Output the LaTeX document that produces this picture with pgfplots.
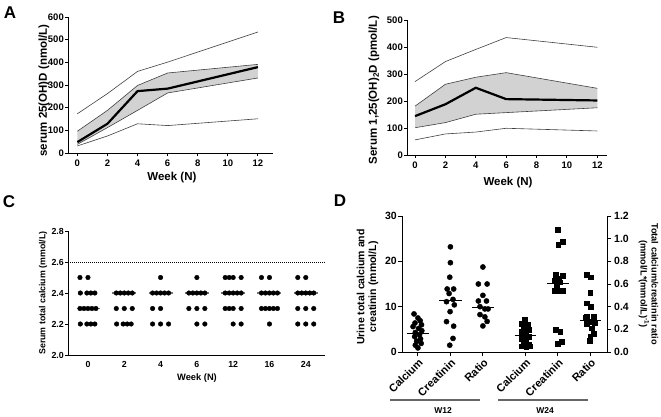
\documentclass[border=0pt]{standalone}
\usepackage{fontspec}
\setmainfont{Liberation Sans}
\usepackage{pgfplots}
\pgfplotsset{compat=1.18}

\pgfplotsset{
  gp/.style={
    scale only axis,
    axis x line*=bottom, axis y line*=left,
    axis line style={line width=1pt, -},
    tick style={line width=0.9pt, black},
    tick align=outside,
    major tick length=3pt,
    yticklabel style={inner sep=1pt},
    /pgf/number format/assume math mode=true,
    clip=false,
  },
  thinline/.style={black!75, line width=0.6pt},
}

\begin{document}
\begin{tikzpicture}
\path[use as bounding box] (0pt,0pt) rectangle (661pt,416pt);

% ---------- A ----------
\begin{axis}[gp, at={(68pt,263pt)}, anchor=south west, width=205pt, height=136pt,
  xmin=-0.62, xmax=13, ymin=0, ymax=600,
  xtick={0,2,4,6,8,10,12}, ytick={0,100,200,300,400,500,600},
  tick label style={font=\fontsize{9.5}{10}\selectfont\bfseries},
  xlabel={Week (N)}, ylabel={serum 25(OH)D (nmol/L)},
  label style={font=\fontsize{11.5}{13}\selectfont\bfseries},
  xlabel style={at={(axis description cs:0.507,-0.184)}, anchor=center},
  ylabel style={at={(axis description cs:-0.117,0.46)}, anchor=center},
]
% interquartile band: Q3 forward, Q1 backward
\addplot[fill=gray!35, draw=none] coordinates {(0,96) (2,188) (4,298) (6,353) (12,391)
  (12,331) (6,265) (4,188) (2,112) (0,38)} -- cycle;
\addplot[thinline] coordinates {(0,96) (2,188) (4,298) (6,353) (12,391)};
\addplot[thinline] coordinates {(0,38) (2,112) (4,188) (6,265) (12,331)};
\addplot[thinline] coordinates {(0,173) (2,262) (4,360) (6,401) (12,534)};
\addplot[thinline] coordinates {(0,31) (2,75) (4,129) (6,121) (12,151)};
\addplot[black, line width=2.2pt] coordinates {(0,48) (2,129) (4,273) (6,284) (12,379)};
\end{axis}

% ---------- B ----------
\begin{axis}[gp, at={(407pt,261pt)}, anchor=south west, width=200pt, height=135pt,
  xmin=-0.53, xmax=12.64, ymin=0, ymax=500,
  xtick={0,2,4,6,8,10,12}, ytick={0,100,200,300,400,500},
  tick label style={font=\fontsize{9.5}{10}\selectfont\bfseries},
  xlabel={Week (N)}, ylabel={Serum 1,25(OH)\textsubscript{2}D (pmol/L)},
  label style={font=\fontsize{11.5}{13}\selectfont\bfseries},
  xlabel style={at={(axis description cs:0.505,-0.207)}, anchor=center},
  ylabel style={at={(axis description cs:-0.165,0.48)}, anchor=center},
]
\addplot[fill=gray!35, draw=none] coordinates {(0,181) (2,262) (4,288) (6,305) (12,247)
  (12,175) (6,157) (4,151) (2,120) (0,101)} -- cycle;
\addplot[thinline] coordinates {(0,181) (2,262) (4,288) (6,305) (12,247)};
\addplot[thinline] coordinates {(0,101) (2,120) (4,151) (6,157) (12,175)};
\addplot[thinline] coordinates {(0,272) (2,346) (4,391) (6,435) (12,399)};
\addplot[thinline] coordinates {(0,56) (2,78) (4,85) (6,99) (12,89)};
\addplot[black, line width=2.2pt] coordinates {(0,144) (2,188) (4,249) (6,207) (12,202)};
\end{axis}

% ---------- C ----------
\begin{axis}[gp, at={(68pt,61pt)}, anchor=south west, width=257pt, height=124pt,
  xmin=-0.55, xmax=6.53, ymin=2.0, ymax=2.8,
  ytick={2.0,2.2,2.4,2.6,2.8},
  xtick={0,1,2,3,4,5,6}, xticklabels={0,2,4,6,12,16,24},
  xtick style={draw=none},
  yticklabel style={/pgf/number format/.cd, fixed, fixed zerofill, precision=1},
  tick label style={font=\fontsize{8.8}{9}\selectfont\bfseries},
  xlabel={Week (N)}, ylabel={Serum total calcium (mmol/L)},
  xlabel style={font=\fontsize{9.3}{10}\selectfont\bfseries, at={(axis description cs:0.502,-0.185)}, anchor=center},
  ylabel style={font=\fontsize{8.8}{10}\selectfont\bfseries, at={(axis description cs:-0.097,0.5)}, anchor=center},
]
\addplot[black, densely dotted, line width=1pt] coordinates {(-0.55,2.6) (6.53,2.6)};
% medians
\addplot[black!55, line width=1.6pt] coordinates {(-0.3,2.3) (0.33,2.3)};
\addplot[black!55, line width=1.6pt] coordinates {(0.67,2.4) (1.33,2.4)};
\addplot[black!55, line width=1.6pt] coordinates {(1.67,2.4) (2.33,2.4)};
\addplot[black!55, line width=1.6pt] coordinates {(2.67,2.4) (3.33,2.4)};
\addplot[black!55, line width=1.6pt] coordinates {(3.67,2.4) (4.33,2.4)};
\addplot[black!55, line width=1.6pt] coordinates {(4.67,2.4) (5.33,2.4)};
\addplot[black!55, line width=1.6pt] coordinates {(5.67,2.4) (6.33,2.4)};
% week 0
\addplot[only marks, mark=*, mark size=2.3pt, black] coordinates {
 (-0.22,2.5) (0,2.5)
 (-0.21,2.4) (-0.03,2.4) (0.08,2.4) (0.19,2.4)
 (-0.22,2.3) (-0.11,2.3) (0,2.3) (0.11,2.3) (0.22,2.3)
 (-0.21,2.2) (-0.03,2.2) (0.08,2.2) (0.19,2.2)};
% week 2
\addplot[only marks, mark=*, mark size=2.3pt, black] coordinates {
 (0.78,2.4) (0.89,2.4) (1,2.4) (1.11,2.4) (1.22,2.4)
 (0.78,2.3) (1,2.3) (1.22,2.3)
 (0.79,2.2) (0.97,2.2) (1.08,2.2) (1.19,2.2)};
% week 4
\addplot[only marks, mark=*, mark size=2.3pt, black] coordinates {
 (2,2.5)
 (1.78,2.4) (1.89,2.4) (2,2.4) (2.11,2.4) (2.22,2.4)
 (1.78,2.3) (2,2.3)
 (1.78,2.2) (2,2.2) (2.22,2.2)};
% week 6
\addplot[only marks, mark=*, mark size=2.3pt, black] coordinates {
 (3,2.5)
 (2.78,2.4) (2.89,2.4) (3,2.4) (3.11,2.4) (3.22,2.4)
 (2.78,2.3) (3,2.3) (3.22,2.3)
 (3,2.2) (3.22,2.2)};
% week 12
\addplot[only marks, mark=*, mark size=2.3pt, black] coordinates {
 (3.78,2.5) (3.89,2.5) (4,2.5) (4.22,2.5)
 (3.78,2.4) (3.89,2.4) (4,2.4) (4.11,2.4) (4.22,2.4)
 (3.78,2.3) (3.89,2.3) (4,2.3) (4.22,2.3)
 (4,2.2) (4.22,2.2)};
% week 16
\addplot[only marks, mark=*, mark size=2.3pt, black] coordinates {
 (4.78,2.5) (5,2.5)
 (4.78,2.4) (4.89,2.4) (5,2.4) (5.11,2.4) (5.22,2.4)
 (4.78,2.3) (4.89,2.3) (5,2.3) (5.11,2.3) (5.22,2.3)
 (5,2.2)};
% week 24
\addplot[only marks, mark=*, mark size=2.3pt, black] coordinates {
 (5.78,2.5) (6,2.5)
 (5.78,2.4) (5.89,2.4) (6,2.4) (6.11,2.4) (6.22,2.4)
 (5.78,2.3) (6,2.3) (6.22,2.3)
 (5.78,2.2) (6,2.2) (6.22,2.2)};
\end{axis}

% ---------- D (left axis: mmol/L) ----------
\begin{axis}[gp, at={(402pt,64pt)}, anchor=south west, width=205pt, height=136pt,
  xmin=-0.49, xmax=5.82, ymin=0, ymax=30,
  ytick={0,10,20,30},
  xtick={0,1,2,3.31,4.31,5.31},
  xticklabels={Calcium,Creatinin,Ratio,Calcium,Creatinin,Ratio},
  major tick length=4pt,
  yticklabel style={font=\fontsize{10.5}{11}\selectfont\bfseries},
  xticklabel style={rotate=45, anchor=north east, inner sep=1pt, font=\fontsize{11}{12}\selectfont\bfseries},
  ylabel={Urine total calcium and\\creatinin (mmol/L)},
  ylabel style={align=center, font=\fontsize{10.5}{11.7}\selectfont\bfseries, at={(axis description cs:-0.168,0.478)}, anchor=center},
]
% W12 calcium
\addplot[only marks, mark=*, mark size=2.6pt, black] coordinates {
 (-0.12,8.4) (0,7.5) (0.07,6.9) (-0.09,6.4) (0.11,6.0) (-0.15,5.6) (0.02,5.2) (0.12,4.7)
 (-0.08,4.3) (0.05,3.8) (-0.1,3.4) (0.08,2.9) (-0.04,2.4) (0.1,1.9) (-0.08,1.5) (0,0.9)};
\addplot[black, line width=0.9pt] coordinates {(-0.35,4.0) (0.35,4.0)};
% W12 creatinin
\addplot[only marks, mark=*, mark size=2.6pt, black] coordinates {
 (1,23.2) (1,19.7) (0.98,16.5) (0.9,13.9) (1.1,13.9) (0.96,12.9) (1.08,11.6) (0.88,11.1)
 (1.12,10.4) (0.99,8.9) (0.88,6.7) (1.1,5.7) (1.08,3.0) (0.98,1.5)};
\addplot[black, line width=0.9pt] coordinates {(0.65,11.3) (1.35,11.3)};
% W24 calcium
\addplot[only marks, mark=square*, mark size=2.4pt, black] coordinates {
 (3.29,7.1) (3.19,6.3) (3.37,6.1) (3.24,5.3) (3.4,4.9) (3.19,4.5) (3.33,4.1) (3.24,3.6)
 (3.4,3.4) (3.19,2.9) (3.33,2.7) (3.24,1.9) (3.4,1.7) (3.19,1.3) (3.33,1.2) (3.45,1.3)};
\addplot[black, line width=0.9pt] coordinates {(2.98,3.6) (3.64,3.6)};
% W24 creatinin
\addplot[only marks, mark=square*, mark size=2.4pt, black] coordinates {
 (4.31,27.0) (4.45,24.3) (4.32,23.7) (4.25,17.1) (4.45,16.8) (4.33,16.2) (4.22,15.7) (4.38,15.4)
 (4.28,14.6) (4.2,13.6) (4.33,13.5) (4.45,13.5) (4.24,4.9) (4.38,4.5) (4.42,2.3) (4.31,1.8)};
\addplot[black, line width=0.9pt] coordinates {(3.97,15.1) (4.65,15.1)};
\end{axis}

% ---------- D (right axis: ratio) ----------
\begin{axis}[gp, at={(402pt,64pt)}, anchor=south west, width=205pt, height=136pt,
  xmin=-0.49, xmax=5.82, ymin=0, ymax=1.2,
  axis y line*=right, axis x line=none,
  major tick length=4pt,
  ytick={0,0.2,0.4,0.6,0.8,1.0,1.2},
  yticklabel style={inner sep=3pt, font=\fontsize{10.5}{11}\selectfont\bfseries, /pgf/number format/.cd, fixed, fixed zerofill, precision=1},
  ylabel={Total calcium/creatinin ratio\\(mmol/L*(mmol/L)\textsuperscript{-1})},
  ylabel style={align=center, rotate=180, font=\fontsize{9.2}{11}\selectfont\bfseries, at={(axis description cs:1.203,0.5)}, anchor=center},
]
% W12 ratio
\addplot[only marks, mark=*, mark size=2.6pt, black] coordinates {
 (2,0.75) (1.86,0.60) (2.13,0.60) (2,0.50) (1.86,0.45) (2.11,0.45) (1.91,0.40) (2.06,0.38)
 (2.16,0.38) (1.91,0.33) (2.06,0.31) (2.13,0.27) (2,0.23)};
\addplot[black, line width=0.9pt] coordinates {(1.67,0.39) (2.33,0.39)};
% W24 ratio
\addplot[only marks, mark=square*, mark size=2.4pt, black] coordinates {
 (5.2,0.68) (5.31,0.66) (5.3,0.52) (5.2,0.43) (5.31,0.40) (5.2,0.31) (5.4,0.31) (5.15,0.30)
 (5.3,0.27) (5.45,0.26) (5.2,0.25) (5.35,0.21) (5.42,0.16) (5.3,0.14) (5.28,0.10)};
\addplot[black, line width=0.9pt] coordinates {(4.98,0.28) (5.64,0.28)};
\end{axis}

% group bars and panel letters
\draw[black!60, line width=1.8pt] (390pt,16pt) -- (480pt,16pt);
\draw[black!60, line width=1.8pt] (498pt,16pt) -- (588pt,16pt);
\node[font=\fontsize{8.5}{10}\selectfont\bfseries] at (443pt,5pt) {W12};
\node[font=\fontsize{8.5}{10}\selectfont\bfseries] at (545pt,5pt) {W24};
\node[font=\fontsize{17}{20}\selectfont\bfseries] at (10pt,403pt) {A};
\node[font=\fontsize{17}{20}\selectfont\bfseries] at (339pt,398pt) {B};
\node[font=\fontsize{17}{20}\selectfont\bfseries] at (9pt,214pt) {C};
\node[font=\fontsize{17}{20}\selectfont\bfseries] at (340pt,215pt) {D};
\end{tikzpicture}
\end{document}
